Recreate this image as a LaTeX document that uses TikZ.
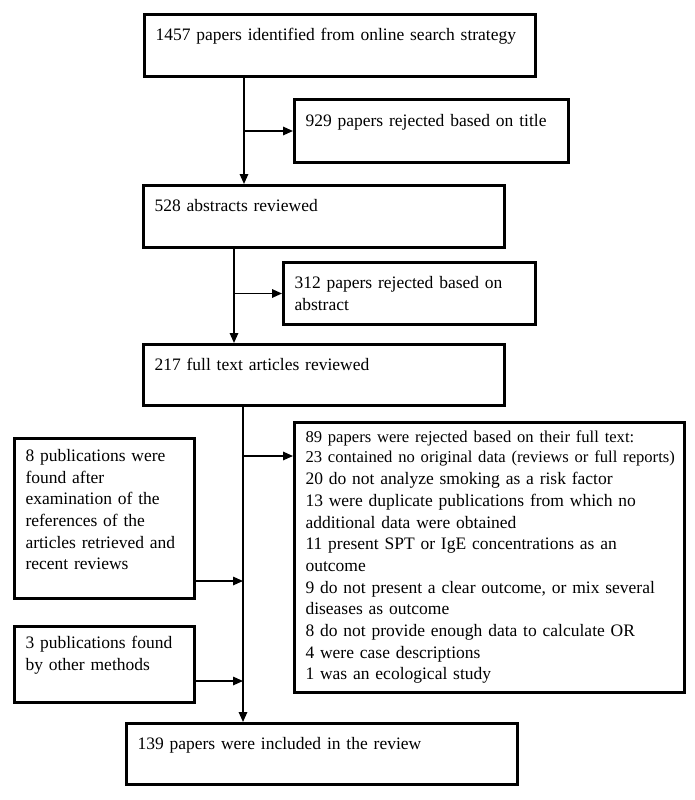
\documentclass[tikz,border=0pt]{standalone}
\usepackage{fontspec}
\setmainfont{Liberation Serif}
\usetikzlibrary{arrows.meta,calc}
\tikzset{%
  stage/.style = {shape=rectangle, draw, line width=3pt,%
                  anchor=north west, align=left,%
                  inner xsep=11pt, inner ysep=6pt,%
                  font=\fontsize{17.5}{21.7}\selectfont},%
  flow/.style  = {line width=1.6pt, -{Triangle[length=10pt,width=8.5pt]}}%
}
\begin{document}
\begin{tikzpicture}[x=1pt,y=-1pt]
	\useasboundingbox (0,0) rectangle (695,800);
	\node [stage, text width=369, minimum height=62] (ident) at (143,13)
		{\mbox{1457 papers identified from online search strategy}\\\mbox{}};
	\node [stage, text width=252, minimum height=63] (title) at (293,98)
		{929 papers rejected based on title\\\mbox{}};
	\node [stage, text width=339, minimum height=62] (abstr) at (142,184)
		{528 abstracts reviewed\\\mbox{}};
	\node [stage, text width=230, minimum height=62] (rejabs) at (282,261)
		{312 papers rejected based on\\abstract};
	\node [stage, text width=339, minimum height=61] (full) at (142,343)
		{217 full text articles reviewed\\\mbox{}};
	\node [stage, text width=368, minimum height=270] (rejfull) at (293,421)
		{{\fontsize{16.6}{20}\selectfont 89 papers were rejected based on their full text:\\
		\mbox{23 contained no original data (reviews or full reports)}\par}
		20 do not analyze smoking as a risk factor\\
		13 were duplicate publications from which no\\
		additional data were obtained\\
		11 present SPT or IgE concentrations as an\\
		outcome\\
		9 do not present a clear outcome, or mix several\\
		diseases as outcome\\
		8 do not provide enough data to calculate OR\\
		4 were case descriptions\\
		1 was an ecological study};
	\node [stage, text width=158, minimum height=160] (refs) at (13,437)
		{8 publications were\\found after\\examination of the\\references of the\\articles retrieved and\\recent reviews\\[-4pt]\mbox{}};
	\node [stage, text width=158, minimum height=76] (other) at (13,625)
		{3 publications found\\by other methods\\\mbox{}};
	\node [stage, text width=369, minimum height=61] (incl) at (125,722)
		{139 papers were included in the review\\\mbox{}};
	\draw [flow] ($(ident.south west)+(101,0)$) coordinate (s1) -- (s1 |- abstr.north);
	\draw [flow] (s1 |- title.west) -- (title.west);
	\draw [flow] ($(abstr.south west)+(92,0)$) coordinate (s2) -- (s2 |- full.north);
	\draw [flow] (s2 |- rejabs.west) -- (rejabs.west);
	\draw [flow] ($(full.south west)+(101,0)$) coordinate (s3) -- (s3 |- incl.north);
	\coordinate (r1) at ($(rejfull.north west)+(0,35)$);
	\draw [flow] (s3 |- r1) -- (r1);
	\draw [flow] ($(refs.south east)+(0,-19)$) coordinate (r2) -- (r2 -| s3);
	\draw [flow] ($(other.south east)+(0,-23)$) coordinate (r3) -- (r3 -| s3);
\end{tikzpicture}
\end{document}
